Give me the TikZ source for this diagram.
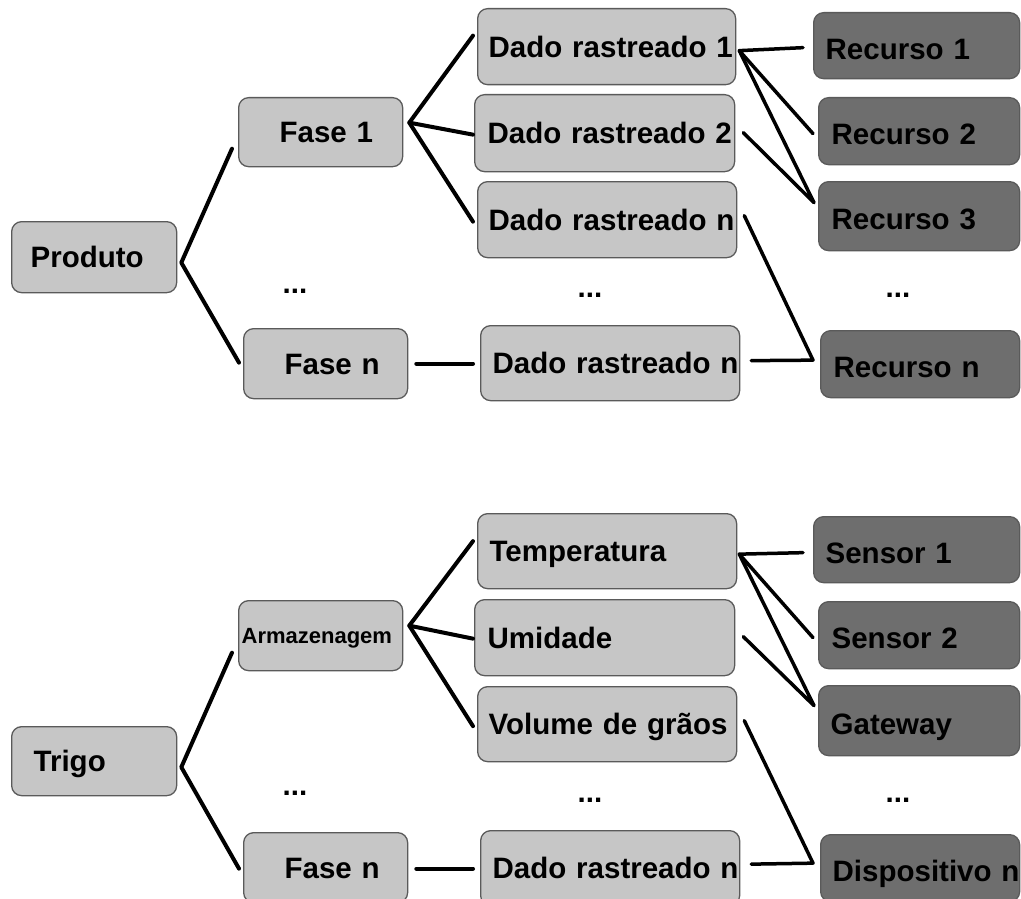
\documentclass[tikz,border=0pt]{standalone}
\usepackage{fontspec}
\setmainfont{Liberation Sans}
\usetikzlibrary{calc}
\definecolor{boxlight}{HTML}{C6C6C6}
\definecolor{boxdark}{HTML}{6E6E6E}
\definecolor{edgegray}{HTML}{5A5A5A}
\begin{document}
\begin{tikzpicture}[x=1pt,y=-1pt,
  box/.style={draw=edgegray, line width=1.3pt, rounded corners=10pt, anchor=north west,
    inner ysep=0pt, text depth=0pt, text=black,
    font=\fontsize{29.5}{34}\selectfont\bfseries},
  light/.style={box, fill=boxlight, text height=21pt},
  dark/.style={box, fill=boxdark, text height=27pt},
  link/.style={line width=4pt, line cap=round, line join=round},
  rlink/.style={line width=3.5pt, line cap=round, line join=round},
  dots/.style={anchor=base, inner sep=0pt, font=\fontsize{29.5}{34}\selectfont\bfseries}
]
\useasboundingbox (0,0) rectangle (1021,899);
\clip (0,0) rectangle (1021,899);
\fill[white] (0,0) rectangle (1021,899);

% ---------- generic model ----------
\node[light, minimum width=165pt, minimum height=71pt, inner xsep=19pt, text width=127pt] (p-prod) at (11,221) {\mbox{Produto}};
\node[light, minimum width=164pt, minimum height=69pt, inner xsep=41pt, text width=82pt] (p-f1) at (238,97) {\mbox{Fase 1}};
\node[light, minimum width=164pt, minimum height=70pt, inner xsep=41pt, text width=82pt] (p-fn) at (243,328) {\mbox{Fase n}};

\node[light, minimum width=258pt, minimum height=76pt, inner xsep=11pt, text width=236pt] (p-d1) at (477,8) {\mbox{Dado rastreado 1}};
\node[light, minimum width=260pt, minimum height=77pt, inner xsep=13pt, text width=234pt] (p-d2) at (474,94) {\mbox{Dado rastreado 2}};
\node[light, minimum width=259pt, minimum height=76pt, inner xsep=11pt, text width=237pt] (p-d3) at (477,181) {\mbox{Dado rastreado n}};
\node[light, minimum width=259pt, minimum height=75pt, inner xsep=12pt, text width=235pt] (p-dn) at (480,325) {\mbox{Dado rastreado n}};

\node[dark, minimum width=206pt, minimum height=66pt, inner xsep=12pt, text width=182pt] (p-r1) at (813,12) {\mbox{Recurso 1}};
\node[dark, minimum width=201pt, minimum height=67pt, inner xsep=13pt, text width=175pt] (p-r2) at (818,97) {\mbox{Recurso 2}};
\node[dark, minimum width=201pt, minimum height=69pt, inner xsep=13pt, text width=175pt] (p-r3) at (818,181) {\mbox{Recurso 3}};
\node[dark, minimum width=199pt, minimum height=67pt, inner xsep=13pt, text width=173pt] (p-rn) at (820,330) {\mbox{Recurso n}};

\node[dots] (p-dots1) at (295,293) {...};
\node[dots] (p-dots2) at (590,297) {...};
\node[dots] (p-dots3) at (898,297) {...};

\coordinate (p-j0) at ($(p-prod.east)+(4,5.5)$);
\coordinate (p-j1) at ($(p-f1.east)+(6,-9.5)$);
\coordinate (p-j2) at ($(p-d1.east)+(3,4)$);

\draw[link] ($(p-f1.west)+(-6,16.5)$) -- (p-j0) -- ($(p-fn.west)+(-4,-1)$);
\draw[link] ($(p-d1.west)+(-4,-11)$) -- (p-j1) -- ($(p-d3.west)+(-4,2)$);
\draw[link] (p-j1) -- ($(p-d2.west)+(-1,1.5)$);
\draw[link] ($(p-fn.east)+(8,0)$) -- ($(p-dn.west)+(-7,0.5)$);

\draw[rlink] ($(p-r1.west)+(-10,2)$) -- (p-j2) -- ($(p-r2.west)+(-5,2.5)$);
\draw[rlink] (p-j2) -- ($(p-r3.west)+(-4,-13.5)$) -- ($(p-d2.east)+(8,-0.5)$);
\draw[rlink] ($(p-d3.east)+(7,-4)$) -- ($(p-rn.west)+(-7,-4)$) -- ($(p-dn.east)+(11,-2.5)$);

% ---------- wheat example ----------
\node[light, minimum width=165pt, minimum height=69pt, inner xsep=22pt, text width=121pt] (t-prod) at (11,726) {\mbox{Trigo}};
\node[light, minimum width=164pt, minimum height=70pt, inner xsep=3pt, text width=158pt, text height=16pt,
      font=\fontsize{22}{26}\selectfont\bfseries] (t-f1) at (238,600) {\mbox{Armazenagem}};
\node[light, minimum width=164pt, minimum height=70pt, inner xsep=41pt, text width=82pt] (t-fn) at (243,832) {\mbox{Fase n}};

\node[light, minimum width=259pt, minimum height=75pt, inner xsep=12pt, text width=235pt] (t-d1) at (477,513) {\mbox{Temperatura}};
\node[light, minimum width=260pt, minimum height=76pt, inner xsep=13pt, text width=234pt] (t-d2) at (474,599) {\mbox{Umidade}};
\node[light, minimum width=259pt, minimum height=75pt, inner xsep=11pt, text width=237pt] (t-d3) at (477,686) {\mbox{Volume de grãos}};
\node[light, minimum width=259pt, minimum height=75pt, inner xsep=12pt, text width=235pt] (t-dn) at (480,830) {\mbox{Dado rastreado n}};

\node[dark, minimum width=206pt, minimum height=66pt, inner xsep=12pt, text width=182pt] (t-r1) at (813,516) {\mbox{Sensor 1}};
\node[dark, minimum width=201pt, minimum height=67pt, inner xsep=13pt, text width=175pt] (t-r2) at (818,601) {\mbox{Sensor 2}};
\node[dark, minimum width=201pt, minimum height=70pt, inner xsep=12pt, text width=177pt] (t-r3) at (818,685) {\mbox{Gateway}};
\node[dark, minimum width=199pt, minimum height=67pt, inner xsep=12pt, text width=175pt] (t-rn) at (820,834) {\mbox{Dispositivo n}};

\node[dots] (t-dots1) at (295,795) {...};
\node[dots] (t-dots2) at (590,802) {...};
\node[dots] (t-dots3) at (898,802) {...};

\coordinate (t-j0) at ($(t-prod.east)+(4,6)$);
\coordinate (t-j1) at ($(t-f1.east)+(6,-10)$);
\coordinate (t-j2) at ($(t-d1.east)+(2,3)$);

\draw[link] ($(t-f1.west)+(-6,17)$) -- (t-j0) -- ($(t-fn.west)+(-4,1)$);
\draw[link] ($(t-d1.west)+(-4,-10)$) -- (t-j1) -- ($(t-d3.west)+(-4,2)$);
\draw[link] (t-j1) -- ($(t-d2.west)+(-1,1)$);
\draw[link] ($(t-fn.east)+(8,1)$) -- ($(t-dn.west)+(-7,0.5)$);

\draw[rlink] ($(t-r1.west)+(-10,3)$) -- (t-j2) -- ($(t-r2.west)+(-5,2.5)$);
\draw[rlink] (t-j2) -- ($(t-r3.west)+(-4,-15)$) -- ($(t-d2.east)+(8,-1)$);
\draw[rlink] ($(t-d3.east)+(7,-3.5)$) -- ($(t-rn.west)+(-7,-5)$) -- ($(t-dn.east)+(11,-4)$);
\end{tikzpicture}
\end{document}
